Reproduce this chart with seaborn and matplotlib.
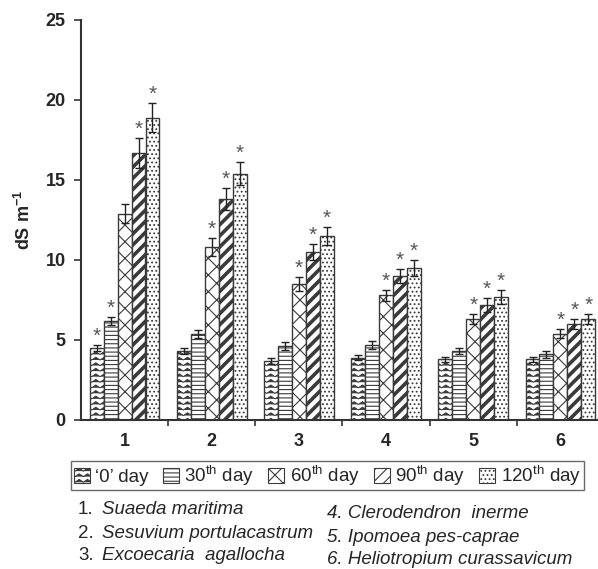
import warnings
warnings.filterwarnings("ignore")
import numpy as np
import pandas as pd
import matplotlib
matplotlib.use("Agg")
import matplotlib.pyplot as plt
import matplotlib.hatch as mhatch
from matplotlib.path import Path
from matplotlib.patches import Patch
import seaborn as sns

# ---------------- data ----------------
species = ["1", "2", "3", "4", "5", "6"]
days = ["\u20180\u2019 day", "30$^{\\mathrm{th}}$ day", "60$^{\\mathrm{th}}$ day",
        "90$^{\\mathrm{th}}$ day", "120$^{\\mathrm{th}}$ day"]
day0 = [4.5, 4.3, 3.7, 3.9, 3.8, 3.8]
day30 = [6.2, 5.4, 4.6, 4.7, 4.3, 4.1]
day60 = [12.9, 10.8, 8.5, 7.8, 6.3, 5.4]
day90 = [16.7, 13.8, 10.5, 9.0, 7.2, 6.0]
day120 = [18.9, 15.4, 11.5, 9.5, 7.7, 6.3]
err0 = [0.2, 0.2, 0.2, 0.15, 0.15, 0.15]
err30 = [0.25, 0.25, 0.25, 0.25, 0.2, 0.2]
err60 = [0.6, 0.55, 0.45, 0.35, 0.3, 0.27]
err90 = [0.95, 0.7, 0.5, 0.45, 0.42, 0.32]
err120 = [0.9, 0.7, 0.55, 0.48, 0.42, 0.32]
star0 = [1, 0, 0, 0, 0, 0]
star30 = [1, 0, 0, 0, 0, 0]
star60 = [0, 1, 1, 1, 1, 1]
star90 = [1, 1, 1, 1, 1, 1]
star120 = [1, 1, 1, 1, 1, 1]
species_names_left = [("1.", "Suaeda maritima"), ("2.", "Sesuvium portulacastrum"),
                      ("3.", "Excoecaria  agallocha")]
species_names_right = ["4. Clerodendron  inerme", "5. Ipomoea pes-caprae",
                       "6. Heliotropium curassavicum"]
yticks = [0, 5, 10, 15, 20, 25]

values = [day0, day30, day60, day90, day120]
errors = [err0, err30, err60, err90, err120]
stars = [star0, star30, star60, star90, star120]


# ---------------- custom zigzag hatch ----------------
class ZigZagHatch(mhatch.HatchPatternBase):
    def __init__(self, hatch, density):
        self.num_lines = int(hatch.count('z') * density)
        self.steps = 24
        self.num_vertices = self.num_lines * (self.steps + 1)

    def set_vertices_and_codes(self, vertices, codes):
        n = self.num_lines
        k = self.steps
        amp = 0.5 / n
        i = 0
        for j in range(n):
            y0 = (j + 0.2) / n
            for s in range(k + 1):
                vertices[i] = (s / k, y0 + (amp if s % 2 else 0.0))
                codes[i] = Path.LINETO if s else Path.MOVETO
                i += 1


if ZigZagHatch not in mhatch._hatch_types:
    mhatch._hatch_types.append(ZigZagHatch)

hatches = ["zzz", "----", "xx", "///", "...."]
hatch_lws = [0.7, 0.8, 0.8, 2.6, 0.8]

# ---------------- style ----------------
sns.set_style("ticks")
plt.rcParams['font.family'] = ['Liberation Sans', 'DejaVu Sans']
plt.rcParams['mathtext.fontset'] = 'custom'
plt.rcParams['mathtext.rm'] = 'Liberation Sans'
plt.rcParams['mathtext.it'] = 'Liberation Sans:italic'
plt.rcParams['mathtext.bf'] = 'Liberation Sans:bold'
plt.rcParams['hatch.linewidth'] = 0.8

df = pd.DataFrame({
    "species": np.repeat(species, len(days)),
    "day": days * len(species),
    "value": [values[d][s] for s in range(len(species)) for d in range(len(days))],
})

fig = plt.figure(figsize=(5.98, 5.69), dpi=100)
ax = fig.add_axes([81 / 598, 1 - 420 / 569, 516 / 598, 400 / 569])

sns.barplot(data=df, x="species", y="value", hue="day", order=species,
            hue_order=days, palette=["white"] * len(days), width=0.8,
            errorbar=None, edgecolor="#3a3a3a", linewidth=1.0, legend=False,
            ax=ax)

bar_containers = list(ax.containers)
for d, cont in enumerate(bar_containers):
    for s, p in enumerate(cont.patches):
        p.set_hatch(hatches[d])
        if hasattr(p, "set_hatch_linewidth"):
            p.set_hatch_linewidth(hatch_lws[d])
        xc = p.get_x() + p.get_width() / 2
        h = p.get_height()
        ax.errorbar(xc, h, yerr=errors[d][s], color="#222222", capsize=3,
                    elinewidth=1.0, capthick=1.0, fmt="none", zorder=5)
        if stars[d][s]:
            ax.text(xc, h + errors[d][s] - 0.05, "*", ha="center", va="bottom",
                    fontsize=15, color="#555555")

ax.set_xlim(-0.5, 5.42)
ax.set_ylim(0, 25)
ax.set_yticks(yticks)
ax.set_yticklabels([str(t) for t in yticks], fontsize=13, fontweight="bold")
ax.set_xticks(range(len(species)))
ax.set_xticklabels(species, fontsize=13, fontweight="bold")
ax.set_xticks(np.arange(0.5, 5.5, 1.0), minor=True)
ax.tick_params(axis="x", which="major", length=0, pad=9)
ax.tick_params(axis="x", which="minor", length=4, width=1.2, color="#333333",
               direction="out")
ax.tick_params(axis="y", which="major", length=5, width=1.2, color="#333333",
               direction="out", pad=6)
ax.set_xlabel("")
ax.set_ylabel("dS m$^{\\mathbf{-1}}$", fontsize=13, fontweight="bold", labelpad=8)
sns.despine(ax=ax)
for sp in ["left", "bottom"]:
    ax.spines[sp].set_color("#333333")
    ax.spines[sp].set_linewidth(1.5)

# legend
handles = []
for d in range(len(days)):
    hp = Patch(facecolor="white", edgecolor="#3a3a3a", hatch=hatches[d],
               linewidth=0.8)
    if hasattr(hp, "set_hatch_linewidth"):
        hp.set_hatch_linewidth(min(hatch_lws[d], 1.6))
    handles.append(hp)
leg = fig.legend(handles, days, loc="center",
                 bbox_to_anchor=((68 + 587) / 2 / 598, 1 - 475.5 / 569),
                 ncol=5, fontsize=13.5, frameon=True, fancybox=False,
                 handlelength=0.85, handleheight=0.85, handletextpad=0.3,
                 columnspacing=0.75, borderpad=0.15, borderaxespad=0)
leg.get_frame().set_edgecolor("#444444")
leg.get_frame().set_linewidth(1.0)

# species names
left_y = [510, 533, 556]
right_y = [514, 537, 559]
for (num, name), yy in zip(species_names_left, left_y):
    fig.text(78 / 598, 1 - yy / 569, num, fontsize=13.5, va="center", ha="left")
    fig.text(102 / 598, 1 - yy / 569, name, fontsize=13.5, va="center", ha="left",
             style="italic")
for name, yy in zip(species_names_right, right_y):
    fig.text(327 / 598, 1 - yy / 569, name, fontsize=13.5, va="center", ha="left",
             style="italic")

fig.savefig("out.png", dpi=100)
